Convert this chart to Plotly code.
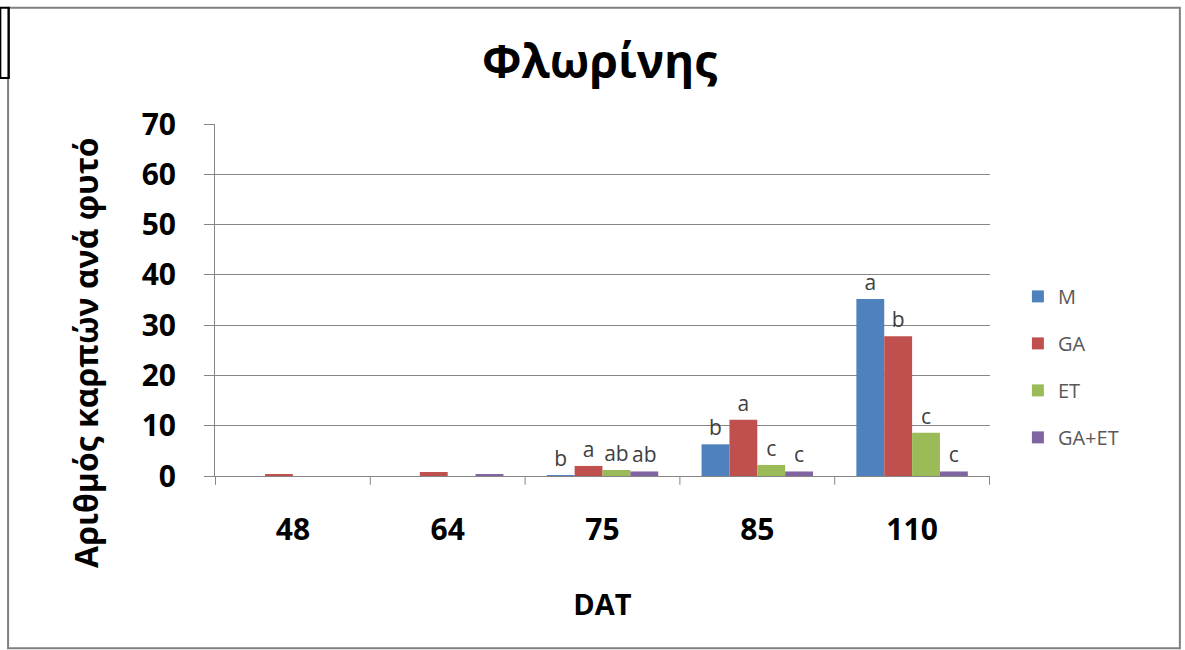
import plotly.graph_objects as go

dat = ["48", "64", "75", "85", "110"]
series = ["M", "GA", "ET", "GA+ET"]
values = {
    "M": [0.0, 0.0, 0.1, 6.3, 35.2],
    "GA": [0.2, 0.8, 2.0, 11.2, 27.8],
    "ET": [0.0, 0.0, 1.2, 2.2, 8.6],
    "GA+ET": [0.0, 0.3, 0.9, 0.9, 0.9],
}
letters = {
    "M": ["", "", "b", "b", "a"],
    "GA": ["", "", "a", "a", "b"],
    "ET": ["", "", "ab", "c", "c"],
    "GA+ET": ["", "", "ab", "c", "c"],
}
colors = {"M": "#4F81BD", "GA": "#C0504D", "ET": "#9BBB59", "GA+ET": "#8064A2"}

font = "Open Sans, DejaVu Sans, sans-serif"

fig = go.Figure()
for s in series:
    fig.add_trace(go.Bar(
        x=dat, y=values[s], name=s, marker_color=colors[s],
        marker_line_width=0, legendgroup=s,
        text=letters[s], textposition="outside", cliponaxis=False,
        textfont=dict(family=font, size=21, color="#404040"),
    ))

fig.update_layout(
    width=1185, height=650,
    paper_bgcolor="white", plot_bgcolor="white",
    barmode="group", bargap=0.28, bargroupgap=0,
    margin=dict(l=215, r=195, t=124, b=174),
    title=dict(text="<b>Φλωρίνης</b>", x=0.506, xanchor="center", y=0.905, yanchor="middle",
               font=dict(family=font, size=46, color="black")),
    legend=dict(x=1.036, y=0.31, yanchor="middle", xanchor="left",
                font=dict(family=font, size=20, color="#595959"),
                traceorder="grouped", tracegroupgap=18, itemsizing="constant"),
    xaxis=dict(
        title=dict(text="<b>DAT</b>", font=dict(family=font, size=29, color="black"), standoff=46),
        tickfont=dict(family=font, size=30, color="black"),
        showline=True, linecolor="#868686", ticks="", showgrid=False,
        tickprefix="<b>", ticksuffix="</b>", ticklabelstandoff=27,
    ),
    yaxis=dict(
        tickfont=dict(family=font, size=30, color="black"),
        range=[0, 70], dtick=10, showgrid=True, gridcolor="#868686", gridwidth=1,
        showline=True, linecolor="#868686", ticks="outside", ticklen=10, tickcolor="#868686",
        tickprefix="<b>", ticksuffix="</b>", zeroline=False, ticklabelstandoff=22,
    ),
)

# y axis title, placed a little below the plot centre as in the original
fig.add_annotation(text="<b>Αριθμός καρπών ανά φυτό</b>", textangle=-90,
                   xref="paper", yref="paper", x=-0.168, y=0.352,
                   xanchor="center", yanchor="middle", showarrow=False,
                   font=dict(family=font, size=32, color="black"))

# category separators on the x axis
for i in range(len(dat) + 1):
    fig.add_shape(type="line", xref="x", yref="paper", x0=i - 0.5, x1=i - 0.5, y0=0, y1=-0.025,
                  line=dict(color="#868686", width=1))

# outer chart frame and small box at the corner
fig.add_shape(type="rect", xref="paper", yref="paper", x0=-0.267, x1=1.245, y0=-0.489, y1=1.33,
              line=dict(color="#808080", width=2))
fig.add_shape(type="rect", xref="paper", yref="paper", x0=-0.277, x1=-0.266, y0=1.131, y1=1.33,
              line=dict(color="black", width=2))

fig.write_html("out.html", config={"displayModeBar": False},
               post_script="document.body.style.margin='0';")
